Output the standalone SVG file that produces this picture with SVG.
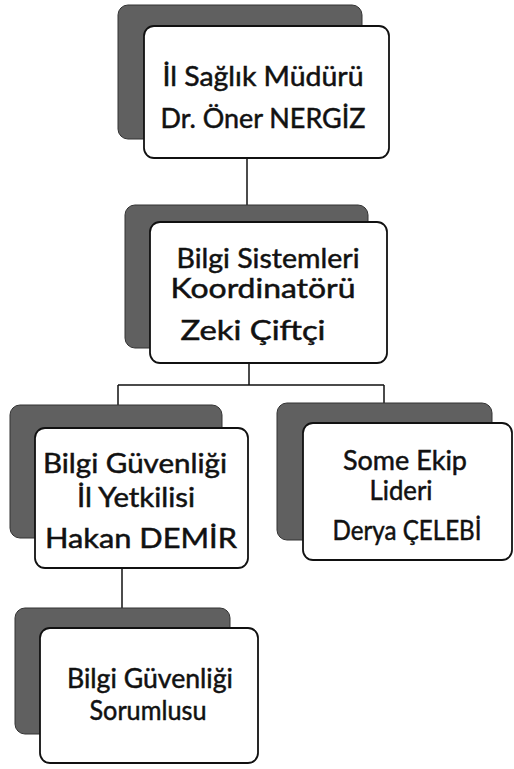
<svg xmlns="http://www.w3.org/2000/svg" width="514" height="769" viewBox="0 0 514 769">
<style>
.shadow{fill:#606060;stroke:#333;stroke-width:1}
.box{fill:#fff;stroke:#111;stroke-width:1.8}
.t{font-family:Lato,"Open Sans","Liberation Sans",sans-serif;font-size:27px;fill:#111;stroke:#111;stroke-width:0.5;text-anchor:middle}
.conn{fill:none;stroke:#111;stroke-width:1.5}
</style>
<rect width="514" height="769" fill="#fff"/>
<g id="connectors">
<path class="conn" d="M247 158 V206"/>
<path class="conn" d="M249 363 V385 M118 385 H384 M118 385 V405 M384 385 V404"/>
<path class="conn" d="M122 568 V608"/>
</g>
<g id="n1">
<rect class="shadow" x="118" y="5" width="244" height="134" rx="10"/>
<rect class="box" x="144" y="26" width="245" height="132" rx="10"/>
<text class="t" x="263" y="86" textLength="201" lengthAdjust="spacingAndGlyphs">İl Sağlık Müdürü</text>
<text class="t" x="263" y="128" textLength="205" lengthAdjust="spacingAndGlyphs">Dr. Öner NERGİZ</text>
</g>
<g id="n2">
<rect class="shadow" x="125" y="205" width="243" height="143" rx="10"/>
<rect class="box" x="150" y="222" width="237" height="141" rx="10"/>
<text class="t" x="268" y="268" textLength="183" lengthAdjust="spacingAndGlyphs">Bilgi Sistemleri</text>
<text class="t" x="263" y="298" textLength="185" lengthAdjust="spacingAndGlyphs">Koordinatörü</text>
<text class="t" x="253" y="340" textLength="145" lengthAdjust="spacingAndGlyphs">Zeki Çiftçi</text>
</g>
<g id="n3">
<rect class="shadow" x="10" y="405" width="212" height="133" rx="10"/>
<rect class="box" x="35" y="428" width="213" height="140" rx="10"/>
<text class="t" x="135" y="473" textLength="184" lengthAdjust="spacingAndGlyphs">Bilgi Güvenliği</text>
<text class="t" x="136" y="507" textLength="118" lengthAdjust="spacingAndGlyphs">İl Yetkilisi</text>
<text class="t" x="141" y="548" textLength="192" lengthAdjust="spacingAndGlyphs">Hakan DEMİR</text>
</g>
<g id="n4">
<rect class="shadow" x="277" y="403" width="215" height="137" rx="10"/>
<rect class="box" x="303" y="423" width="209" height="137" rx="10"/>
<text class="t" x="405" y="470" textLength="124" lengthAdjust="spacingAndGlyphs">Some Ekip</text>
<text class="t" x="401" y="500" textLength="63" lengthAdjust="spacingAndGlyphs">Lideri</text>
<text class="t" x="407" y="540" textLength="149" lengthAdjust="spacingAndGlyphs">Derya ÇELEBİ</text>
</g>
<g id="n5">
<rect class="shadow" x="15" y="608" width="215" height="126" rx="10"/>
<rect class="box" x="40" y="628" width="218" height="135" rx="10"/>
<text class="t" x="150" y="688" textLength="166" lengthAdjust="spacingAndGlyphs">Bilgi Güvenliği</text>
<text class="t" x="148" y="720" textLength="117" lengthAdjust="spacingAndGlyphs">Sorumlusu</text>
</g>
</svg>
